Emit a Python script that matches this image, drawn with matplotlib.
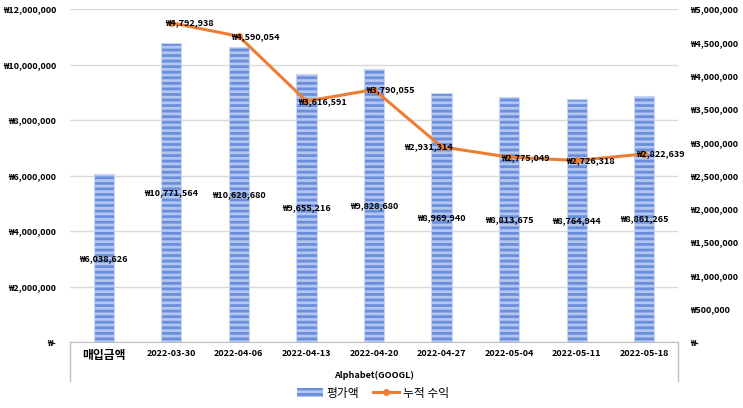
import matplotlib.pyplot as plt
import numpy as np

plt.rcParams['font.family'] = ['Noto Sans CJK KR', 'DejaVu Sans']
plt.rcParams['hatch.linewidth'] = 2.0

categories = ['매입금액', '2022-03-30', '2022-04-06', '2022-04-13', '2022-04-20',
              '2022-04-27', '2022-05-04', '2022-05-11', '2022-05-18']
valuation = [6038626, 10771564, 10628680, 9655216, 9828680,
             8969940, 8813675, 8764944, 8861265]
# cumulative profit, no value for the purchase column
profit = [np.nan, 4792938, 4590054, 3616591, 3790055,
          2931314, 2775049, 2726318, 2822639]
group_label = 'Alphabet(GOOGL)'

def won(v):
    return '₩-' if v == 0 else '₩{:,.0f}'.format(v)

fig = plt.figure(figsize=(7.43, 4.08), dpi=100)
ax = fig.add_axes([70/743, 66/408, 608/743, 333/408])
ax2 = ax.twinx()

x = np.arange(len(categories))
bars = ax.bar(x, valuation, width=0.3, color='#6a8edb', edgecolor='#b3c6f0',
              hatch='---', linewidth=0, label='평가액', zorder=2)
ax.bar(x, valuation, width=0.3, fill=False, edgecolor='#c9d7f4', linewidth=0.8, zorder=2)
for xi, v in zip(x, valuation):
    ax.text(xi, v / 2, won(v), ha='center', va='center', fontsize=6.5,
            fontweight='bold', zorder=5)

ax.set_ylim(0, 12000000)
ax.set_yticks(np.arange(0, 12000001, 2000000))
ax.set_yticklabels([won(v) for v in ax.get_yticks()], fontsize=6.5, fontweight='bold')
ax.yaxis.grid(True, color='#d9d9d9', linewidth=1, zorder=0)
ax.set_axisbelow(True)
ax.set_xlim(-0.5, len(categories) - 0.5)
ax.set_xticks(x)
ax.set_xticklabels(categories, fontsize=6.5, fontweight='bold')
ax.get_xticklabels()[0].set_fontsize(8.5)
ax.tick_params(axis='both', length=0, pad=5)
ax.tick_params(axis='y', pad=10)
for s in ['top', 'right', 'left']:
    ax.spines[s].set_visible(False)
ax.spines['bottom'].set_color('#bfbfbf')

ax2.plot(x, profit, color='#ed7d31', linewidth=2.2, marker='o', markersize=4,
         label='누적 수익', zorder=3)
label_dx = [0, 0.27, 0.24, 0.24, 0.25, -0.19, 0.24, 0.21, 0.24]
for xi, v, dx in zip(x, profit, label_dx):
    if np.isnan(v):
        continue
    ax2.text(xi + dx, v, won(v), ha='center', va='center', fontsize=6.5,
             fontweight='bold', zorder=6)
ax2.set_ylim(0, 5000000)
ax2.set_yticks(np.arange(0, 5000001, 500000))
ax2.set_yticklabels([won(v) for v in ax2.get_yticks()], fontsize=6.5, fontweight='bold')
ax2.tick_params(axis='y', length=0, pad=9)
for s in ['top', 'right', 'left', 'bottom']:
    ax2.spines[s].set_visible(False)

# group label box under the category axis
for xb in [0, 1]:
    ax.plot([xb, xb], [0, -39/333], transform=ax.transAxes, color='#bfbfbf',
            linewidth=1, clip_on=False)
ax.text(0.5, -33/333, group_label, transform=ax.transAxes, ha='center',
        va='center', fontsize=6.5, fontweight='bold')

h1, l1 = ax.get_legend_handles_labels()
h2, l2 = ax2.get_legend_handles_labels()
fig.legend(h1 + h2, l1 + l2, loc='center', bbox_to_anchor=(373/743, 1 - 393/408),
           ncol=2, frameon=False, fontsize=8.5, handlelength=2.2, columnspacing=1.2,
           handletextpad=0.3)

fig.savefig('out.png', dpi=100)
